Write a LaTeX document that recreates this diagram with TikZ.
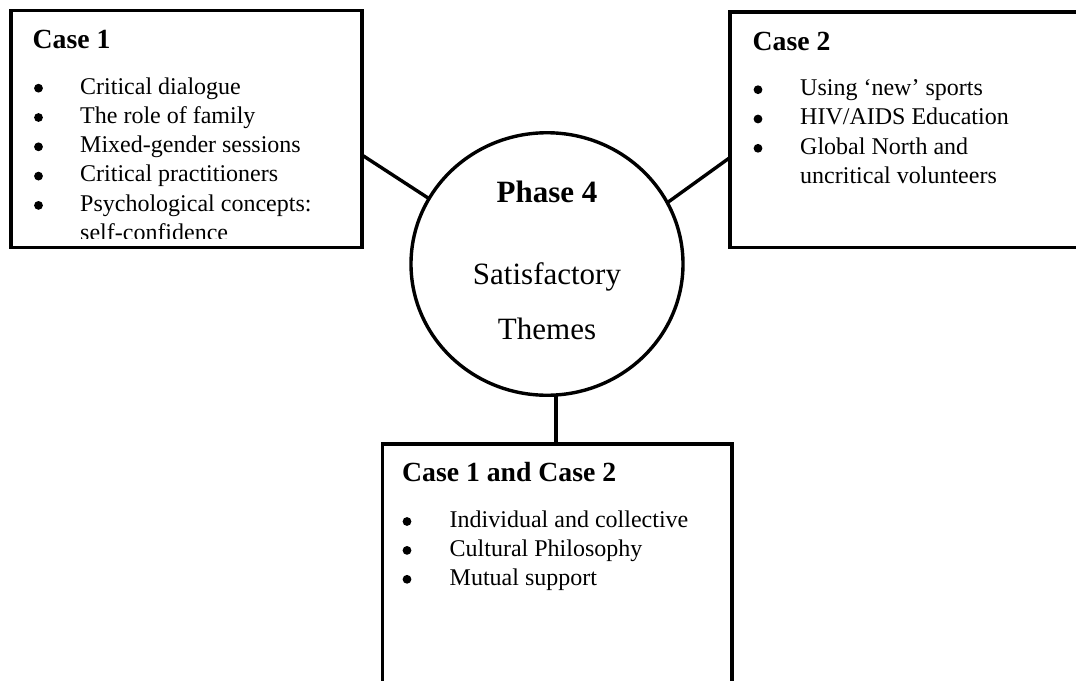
\documentclass[tikz,border=0pt]{standalone}
\usepackage{fontspec}
\setmainfont{Liberation Serif}
\usetikzlibrary{shapes.geometric}
\begin{document}
\begin{tikzpicture}[x=1pt,y=-1pt,
  frame/.style={draw, line width=3.4pt, rectangle, inner sep=0pt, outer sep=0pt, anchor=north west},
  wire/.style={line width=3.4pt},
  head/.style={anchor=base west, inner sep=0pt, font=\fontsize{27.7}{32}\selectfont\bfseries},
  item/.style={anchor=base west, inner sep=0pt, font=\fontsize{24}{29}\selectfont},
  bulletdot/.style={circle, fill=black, inner sep=0pt, minimum size=8.8pt},
  hubtext/.style={anchor=base, inner sep=0pt, font=\fontsize{31}{36}\selectfont},
  hub/.style={draw, ellipse, line width=3.4pt, inner sep=0pt, outer sep=0pt,
              minimum width=272pt, minimum height=262.5pt}]
\useasboundingbox (0,0) rectangle (1076,680);

% frames
\node[frame, minimum width=351pt, minimum height=237pt] (c1) at (11,10.5) {};
\node[frame, minimum width=360pt, minimum height=235.5pt] (c2) at (730,12) {};
\node[frame, minimum width=349.5pt, minimum height=262pt] (c12) at (382.5,444) {};
\node[hub] (hub) at (547,264) {};

% connectors
\draw[wire] (c1.east |- 0,155) -- (hub.151.6);
\draw[wire] (hub.27.6) -- (c2.west |- 0,157.5);
\draw[wire] (hub.-86.2) -- (hub.-86.2 |- c12.north);

% centre
\node[hubtext, font=\fontsize{31}{36}\selectfont\bfseries] (ph) at (547,202) {Phase 4};
\node[hubtext] (sat) at (547,284.3) {Satisfactory};
\node[hubtext] (thm) at (547,339.3) {Themes};

% Case 1
\node[head] (h1) at (32.5,48) {Case 1};
\begin{scope}
  \clip (c1.north west) rectangle (c1.east |- 0,238.5);
  \foreach \t [count=\i] in {Critical dialogue, The role of family, Mixed-gender sessions,
                            Critical practitioners, Psychological concepts:}{
    \node[bulletdot] (ab\i) at (38.5, {94-5.8+29.3*(\i-1)}) {};
    \node[item] (at\i) at (80, {94+29.3*(\i-1)}) {\t};
  }
  \node[item] (at6) at (80, 240) {self-confidence};
\end{scope}

% Case 2
\node[head] (h2) at (752.5,50) {Case 2};
\foreach \t [count=\i] in {Using ‘new’ sports, HIV/AIDS Education, Global North and}{
  \node[bulletdot] (bb\i) at (758, {95.5-5.8+29.3*(\i-1)}) {};
  \node[item] (bt\i) at (800, {95.5+29.3*(\i-1)}) {\t};
}
\node[item] (bt4) at (800, 183.4) {uncritical volunteers};

% Case 1 and Case 2
\node[head] (h12) at (402,481) {Case 1 and Case 2};
\foreach \t [count=\i] in {Individual and collective, Cultural Philosophy, Mutual support}{
  \node[bulletdot] (cb\i) at (407, {527.3-5.8+28.9*(\i-1)}) {};
  \node[item] (ct\i) at (449.5, {527.3+28.9*(\i-1)}) {\t};
}
\end{tikzpicture}
\end{document}
